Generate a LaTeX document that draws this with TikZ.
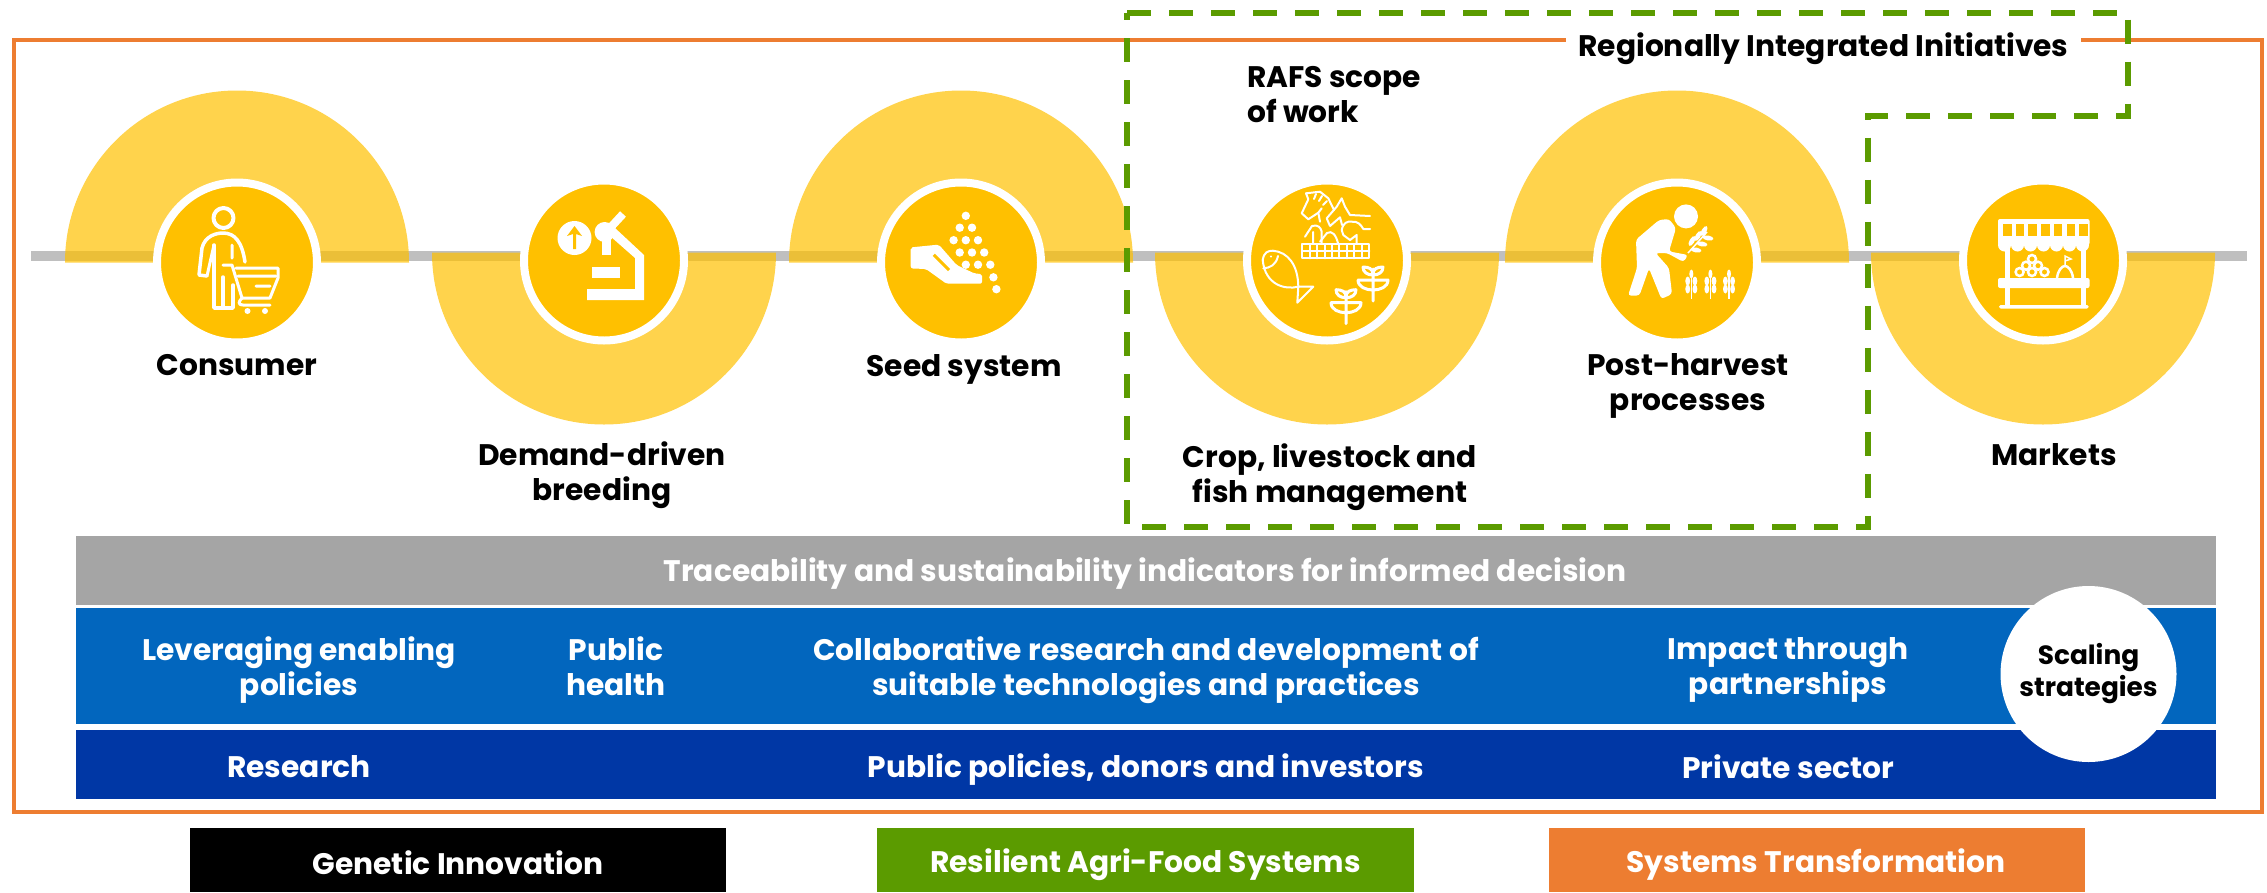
\documentclass[tikz,border=0pt]{standalone}
\usepackage{fontspec}
\setmainfont{Poppins}
\definecolor{goldc}{HTML}{FFC000}
\definecolor{frameorange}{HTML}{ED7D31}
\definecolor{leafgreen}{HTML}{5B9B00}
\definecolor{linegray}{HTML}{BFBFBF}
\definecolor{bargray}{HTML}{A5A5A5}
\definecolor{barblue}{HTML}{0266BE}
\definecolor{bardark}{HTML}{0037A5}
\tikzset{
  stagecirc/.style={circle,fill=goldc,draw=white,line width=8pt,minimum size=160pt,inner sep=0pt},
  stagetxt/.style={font=\bfseries\fontsize{29.7}{35}\selectfont,align=center,inner sep=0pt,text=black},
  bartxt/.style={font=\bfseries\fontsize{29.7}{35}\selectfont,align=center,inner sep=0pt,text=white},
  keybox/.style={fill=none,minimum width=536.5pt,minimum height=64pt,inner sep=0pt},
  icon/.style={draw=white,line width=4pt,line cap=round,line join=round},
  thinicon/.style={draw=white,line width=2pt,line cap=round,line join=round},
  halfdisc/.style={fill=goldc,opacity=0.7}
}
\begin{document}
\begin{tikzpicture}[x=1pt,y=-1pt]
   \useasboundingbox (0,0) rectangle (2267,892);
   % outer frame and the grey line
   \draw[frameorange,line width=4pt] (14,40) rectangle (2262,812);
   \path[fill=linegray] (31,250.5) rectangle (2247,261);
   % half discs
   \foreach \cx in {237,961,1677}
     \path[halfdisc] (\cx-172,262.5) arc[start angle=180,end angle=0,radius=172pt] -- cycle;
   \foreach \cx in {604,1327,2043}
     \path[halfdisc] (\cx-172,252.5) arc[start angle=180,end angle=360,radius=172pt] -- cycle;
   % stage circles
   \node[stagecirc] (consumer) at (237,262.5) {};
   \node[stagecirc] (breeding) at (604,260.5) {};
   \node[stagecirc] (seed) at (961,262.5) {};
   \node[stagecirc] (crop) at (1327,260.5) {};
   \node[stagecirc] (postharvest) at (1677,262.5) {};
   \node[stagecirc] (markets) at (2043,260.5) {};
   % labels
   \node[stagetxt] (consumerlab) at (237,365) {Consumer};
   \node[stagetxt] (breedinglab) at (602,475) {Demand-driven\\breeding};
   \node[stagetxt] (seedlab) at (964,369) {Seed system};
   \node[stagetxt] (croplab) at (1330,477) {Crop, livestock and\\fish management};
   \node[stagetxt] (postlab) at (1688,386) {Post-harvest\\processes};
   \node[stagetxt] (marketlab) at (2054,455) {Markets};
   \node[stagetxt,align=left,anchor=west] (rafslab) at (1247,95) {RAFS scope\\of work};
   \node[stagetxt,fill=white,minimum width=515pt,minimum height=40pt] (rii) at (1823.5,49) {Regionally Integrated Initiatives};
   % green dashed scope
   \draw[leafgreen,line width=6pt,dash pattern=on 24pt off 18pt] (1127,12.5) -- (2128,12.5) -- (2128,115.5) -- (1868,115.5) -- (1868,527) -- (1127,527) -- cycle;
   % bars
   \path[fill=bargray] (76,536) rectangle (2216,605);
   \path[fill=barblue] (76,608) rectangle (2216,724);
   \path[fill=bardark] (76,730) rectangle (2216,799);
   \node[bartxt] (trace) at (1145,574) {Traceability and sustainability indicators for informed decision};
   \node[bartxt] (policies) at (299,670) {Leveraging enabling\\policies};
   \node[bartxt] (health) at (616,666) {Public\\health};
   \node[bartxt] (collab) at (1146,670) {Collaborative research and development of\\suitable technologies and practices};
   \node[bartxt] (impact) at (1788,670) {Impact through\\partnerships};
   \node[bartxt] (research) at (299,767) {Research};
   \node[bartxt] (donors) at (1146,770) {Public policies, donors and investors};
   \node[bartxt] (private) at (1788,767) {Private sector};
   \node[circle,fill=white,minimum size=176pt,inner sep=0pt,text=black,align=center,font=\bfseries\fontsize{26.4}{32}\selectfont] (scaling) at (2088.5,674) {Scaling\\strategies};
   % key
   \node[keybox,fill=black] (keygen) at (458,860) {};
   \node[keybox,fill=leafgreen] (keyraf) at (1145.5,860) {};
   \node[keybox,fill=frameorange] (keysys) at (1817,860) {};
   \node[bartxt] (gentxt) at (458,863) {Genetic Innovation};
   \node[bartxt] (raftxt) at (1145.5,865) {Resilient Agri-Food Systems};
   \node[bartxt] (systxt) at (1816,865) {Systems Transformation};
   % consumer icon
   \draw[icon] (223.5,218) circle (10pt);
   \draw[icon,line width=3.5pt] (214,245) -- (214,308) -- (223,308) -- (223,277) (223,308) -- (233,308) -- (233,285);
   \draw[icon,line width=3.5pt] (207,276) -- (199,275) -- (202,248) .. controls (205,236) and (216,233) .. (223,233) .. controls (235,233) and (242,242) .. (245,262);
   \draw[icon,line width=3pt] (207,276) -- (214,245) (232,245) -- (232,258);
   \draw[icon,line width=3pt] (223,265) -- (232,265) -- (242,298) -- (270,298) -- (278,278) -- (278,268) -- (236,268);
   \draw[icon,line width=3pt] (238,276) -- (276,276) (256,286) -- (270,286) (242,298) .. controls (238,302) and (238,305) .. (243,305) -- (270,305);
   \path[fill=white] (247.5,311) circle (3pt) (265,311) circle (3pt);
   % microscope icon
   \path[fill=white] (574.5,238) circle (17pt);
   \path[fill=goldc] (574.5,226) -- (582,236) -- (576,234) -- (576,249) -- (573,249) -- (573,234) -- (567,236) -- cycle;
   \path[fill=white] (604.6,232) circle (10pt);
   \path[fill=white] (601.5,238) rectangle (610.5,255);
   \draw[white,line width=8pt] (611,227) -- (623,214);
   \path[fill=white] (615,228) -- (644,255) -- (644,300) -- (587,300) -- (587,289) -- (635,289) -- (635,258) -- (610,236) -- cycle;
   \path[fill=white] (592,267) rectangle (620,278);
   % seed icon
   \foreach \dx/\dy in {965.8/215.8,959.7/227.7,972/227.7,953.6/240.2,965.8/240.2,978/240.2,959.7/252.5,972/252.5,984.2/252.5,965.8/264.7,978/264.7,990.3/264.7,993.4/277.3,996.4/289.2}
     \path[fill=white] (\dx,\dy) circle (4.2pt);
   \path[fill=white,rounded corners=2pt] (910.7,247.4) -- (938.8,244.6) -- (956.6,265) -- (974.5,273.5) -- (982,274) -- (982,283.7) -- (946.4,283.7) -- (926,269) -- (910.7,268.4) -- cycle;
   \draw[goldc,line width=3pt] (933.7,254.8) -- (949,270);
   % farm icon
   \draw[thinicon] (1302.3,244) rectangle (1369.3,258.3);
   \draw[thinicon] (1302.3,251.2) -- (1369.3,251.2);
   \foreach \fx in {1309.7,1317.1,1324.5,1331.9,1339.3,1346.7,1354.1,1361.5}
     \draw[thinicon] (\fx,244) -- (\fx,258.3);
   \draw[thinicon] (1321.7,208.3) -- (1318.3,212.7) -- (1308.3,219.3) -- (1301.7,213.3) -- (1308.3,199.3) -- (1306,193.3) -- (1320,191.7) -- (1328.3,198.3) -- (1334,210);
   \draw[thinicon] (1318.3,212.7) -- (1320,221.7) (1316,194) -- (1314,199) (1322,196) -- (1319,201) (1327,201) -- (1323,205);
   \draw[thinicon] (1330,226) -- (1326.7,218.3) -- (1336.7,206.7) -- (1341.7,198.3) -- (1345,206.7) -- (1350,215) -- (1370,216) (1330,226) -- (1340,217.3) -- (1342,225);
   \draw[thinicon] (1341.7,230) .. controls (1343,223) and (1347,221) .. (1351.7,221.7) .. controls (1358,221) and (1361,225) .. (1363.3,229) -- (1370,229);
   \draw[thinicon] (1341.7,230) -- (1343.3,235) -- (1350,240) -- (1356.7,235) -- (1356.7,243.3);
   \draw[thinicon] (1305,236.7) -- (1312,226) .. controls (1318,224) and (1321,228) .. (1321.7,231.7) -- (1321.7,243.3) (1313,232) -- (1313,243);
   \draw[thinicon] (1320,241.7) -- (1327,233) .. controls (1332,230) and (1336,235) .. (1338,243.3);
   \draw[thinicon] (1262.7,260) .. controls (1264,252) and (1268,250.7) .. (1273,250.7) .. controls (1288,252) and (1298,265) .. (1298.3,286.7) .. controls (1285,290) and (1265,285) .. (1262.7,260);
   \draw[thinicon] (1298.3,286.7) -- (1313.3,286.7) -- (1297.3,302.7) -- cycle;
   \draw[thinicon] (1263.3,268.3) .. controls (1270,268) and (1276,265) .. (1278,256);
   \path[fill=white] (1271,256.5) circle (1.2pt);
   \foreach \px/\py in {1346/306.7,1373/284} {
     \draw[icon,line width=3pt,shift={(\px,\py)}] (0,-15) -- (0,17) (-15,-4) -- (15,-4) .. controls (15,3) and (7,6) .. (0,6) .. controls (-7,6) and (-15,3) .. (-15,-4);
     \draw[icon,line width=3pt,shift={(\px,\py)}] (-10,-17) .. controls (-4,-17) and (0,-15) .. (0,-10) .. controls (0,-15) and (4,-17) .. (10,-17) .. controls (10,-12) and (6,-9) .. (0,-9) .. controls (-6,-9) and (-10,-12) .. (-10,-17);
   }
   % post-harvest icon
   \path[fill=white] (1686,216.4) circle (12pt);
   \path[fill=white,rounded corners=3pt] (1659,220) -- (1669,219) -- (1676,228) -- (1669,251.4) -- (1688,255) -- (1683.5,262) -- (1667,253) -- (1655.6,253) -- (1669,268) -- (1672,294) -- (1661.4,299) -- (1649,268.4) -- (1639.4,295.6) -- (1628,295.6) -- (1637,268) -- (1636,239.6) -- cycle;
   \draw[white,line width=1.5pt] (1688,253) -- (1707,232);
   \foreach \lx/\ly/\la in {1692/241/60,1698/236/60,1704/231/60,1696/250/-10,1702/244/-10,1708/238/-10}
     \path[fill=white,shift={(\lx,\ly)},rotate=\la] (0,0) ellipse (5.5pt and 2.5pt);
   \foreach \wx in {1691.3,1710.4,1729} {
     \draw[white,line width=1.5pt] (\wx,270) -- (\wx,299);
     \path[fill=white] (\wx,274) ellipse (2pt and 4.5pt);
     \foreach \wy in {281,289} {
       \path[fill=white] (\wx-3.6,\wy) ellipse (2.4pt and 4.5pt);
       \path[fill=white] (\wx+3.6,\wy) ellipse (2.4pt and 4.5pt);
     }
   }
   % market icon
   \path[fill=white,rounded corners=2pt] (1998,219) rectangle (2089.5,245);
   \foreach \i in {0,...,6}
     \path[fill=goldc] (2003+12.7*\i,223.6) rectangle (2011.5+12.7*\i,236);
   \foreach \i in {0,...,6}
     \path[fill=white] (2004.5+13*\i,245) circle (6.5pt);
   \path[fill=white] (2005.4,248) rectangle (2010,306);
   \path[fill=white] (2081,248) rectangle (2086,306);
   \path[fill=white,rounded corners=2pt] (1998,278) rectangle (2089.5,288);
   \path[fill=white,rounded corners=1.5pt] (1999,305) rectangle (2088.5,308.5);
   \foreach \bx/\by in {2032/259,2026/265.7,2038/265.7,2019.6/272,2032/272,2044.5/272}
     \draw[white,line width=2.5pt] (\bx,\by) circle (4pt);
   \draw[white,line width=2.5pt] (2057,278) .. controls (2058,270) and (2062,266) .. (2065,266) .. controls (2068,266) and (2072,270) .. (2073,278);
   \draw[white,line width=1.5pt] (2065,266) -- (2065,256) -- (2071,259) -- (2065,261);
\end{tikzpicture}
\end{document}
